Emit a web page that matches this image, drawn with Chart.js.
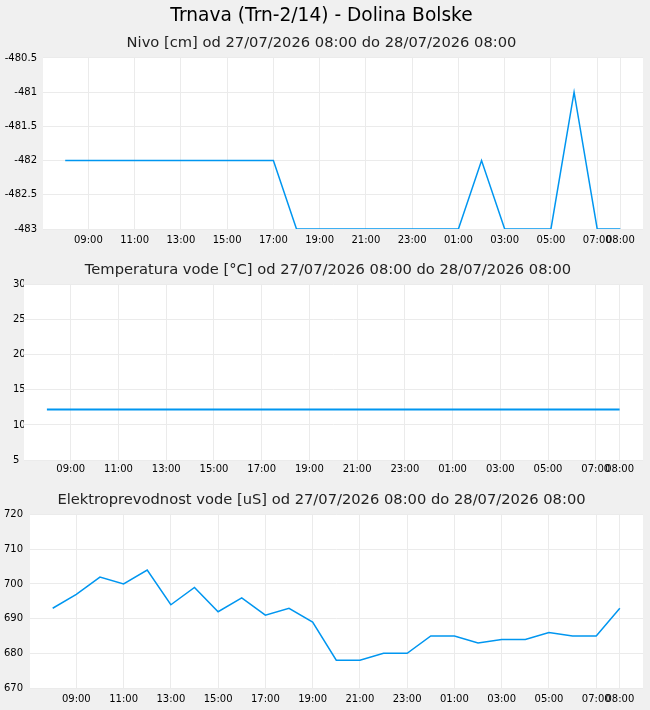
<!DOCTYPE html>
<html>
<head>
<meta charset="utf-8">
<script src="https://cdn.jsdelivr.net/npm/chart.js@4/dist/chart.umd.min.js"></script>
<style>
  body { margin: 0; background: #f0f0f0; }
  .box { position: relative; width: 650px; }
</style>
</head>
<body>
<div class="box" style="height:252px"><canvas id="nivoChart"></canvas></div>
<div class="box" style="height:230px"><canvas id="tempChart"></canvas></div>
<div class="box" style="height:228px"><canvas id="ecChart"></canvas></div>
<script>
// hours after 27/07/2026 08:00
const hours = [0,1,2,3,4,5,6,7,8,9,10,11,12,13,14,15,16,17,18,19,20,21,22,23,24];
const tickHours = [1,3,5,7,9,11,13,15,17,19,21,23,24];
const tickLabels = ["09:00","11:00","13:00","15:00","17:00","19:00","21:00","23:00","01:00","03:00","05:00","07:00","08:00"];

const nivo = [-482,-482,-482,-482,-482,-482,-482,-482,-482,-482,-483,-483,-483,-483,-483,-483,-483,-483,-482,-483,-483,-483,-481,-483,-483];
const temperatura = [12.2,12.2,12.2,12.2,12.2,12.2,12.2,12.2,12.2,12.2,12.2,12.2,12.2,12.2,12.2,12.2,12.2,12.2,12.2,12.2,12.2,12.2,12.2,12.2,12.2];
const prevodnost = [693,697,702,700,704,694,699,692,696,691,693,689,678,678,680,680,685,685,683,684,684,686,685,685,693];

const FONT = "'DejaVu Sans', sans-serif";
const LINE = "rgb(0,150,240)";
const GRID = "#ebebeb";

const whiteArea = {
  id: "whiteArea",
  beforeDraw(chart) {
    const a = chart.chartArea, c = chart.ctx;
    c.save();
    c.fillStyle = "#fff";
    c.fillRect(a.left, a.top, a.right - a.left, a.bottom - a.top);
    c.restore();
  }
};

function makeChart(id, values, opt) {
  return new Chart(document.getElementById(id), {
    type: "line",
    data: {
      datasets: [{
        data: hours.map((h, i) => ({ x: h, y: values[i] })),
        borderColor: LINE,
        borderWidth: opt.lineWidth,
        pointRadius: 0,
        fill: false,
        tension: 0
      }]
    },
    options: {
      responsive: true,
      maintainAspectRatio: false,
      animation: false,
      layout: { padding: opt.padding },
      plugins: {
        legend: { display: false },
        tooltip: { enabled: false },
        title: opt.title,
        subtitle: opt.subtitle || { display: false }
      },
      scales: {
        x: {
          type: "linear",
          min: -0.96,
          max: 24.98,
          afterBuildTicks: (s) => { s.ticks = tickHours.map(v => ({ value: v })); },
          ticks: {
            autoSkip: false,
            maxRotation: 0,
            padding: opt.xPad,
            color: "#000",
            font: { family: FONT, size: 10 },
            callback: (v) => tickLabels[tickHours.indexOf(v)]
          },
          grid: { color: GRID, drawTicks: false },
          border: { display: false }
        },
        y: {
          min: opt.yMin,
          max: opt.yMax,
          afterFit: (s) => { s.width = opt.yWidth; },
          ticks: {
            stepSize: opt.yStep,
            padding: opt.yPad,
            crossAlign: opt.yAlign || "near",
            color: "#000",
            font: { family: FONT, size: 10 },
            callback: (v) => String(v)
          },
          grid: { color: GRID, drawTicks: false },
          border: { display: false }
        }
      }
    },
    plugins: [whiteArea]
  });
}

makeChart("nivoChart", nivo, {
  lineWidth: 1.5,
  padding: { left: 0, right: 7, top: 0, bottom: 1 },
  xPad: 5, yWidth: 43, yPad: 6,
  yMin: -483, yMax: -480.5, yStep: 0.5,
  title: { display: true, text: "Trnava (Trn-2/14) - Dolina Bolske", color: "#000",
           font: { family: FONT, size: 18.6, weight: "normal" }, padding: { top: 5, bottom: 7 } },
  subtitle: { display: true, text: "Nivo [cm] od 27/07/2026 08:00 do 28/07/2026 08:00", color: "#222",
              font: { family: FONT, size: 14.7, weight: "normal" }, padding: { top: 0, bottom: 6 } }
});

makeChart("tempChart", temperatura, {
  lineWidth: 2,
  padding: { left: 13, right: 7, top: 0, bottom: 4 },
  xPad: 3, yWidth: 11, yPad: 0, yAlign: "far",
  yMin: 5, yMax: 30, yStep: 5,
  title: { display: true, text: "Temperatura vode [°C] od 27/07/2026 08:00 do 28/07/2026 08:00", color: "#222",
           font: { family: FONT, size: 14.7, weight: "normal" }, padding: { top: 9, bottom: 6 } }
});

makeChart("ecChart", prevodnost, {
  lineWidth: 1.5,
  padding: { left: 0, right: 7, top: 0, bottom: 0 },
  xPad: 5, yWidth: 30, yPad: 7,
  yMin: 670, yMax: 720, yStep: 10,
  title: { display: true, text: "Elektroprevodnost vode [uS] od 27/07/2026 08:00 do 28/07/2026 08:00", color: "#222",
           font: { family: FONT, size: 14.7, weight: "normal" }, padding: { top: 9, bottom: 6 } }
});
</script>
</body>
</html>
